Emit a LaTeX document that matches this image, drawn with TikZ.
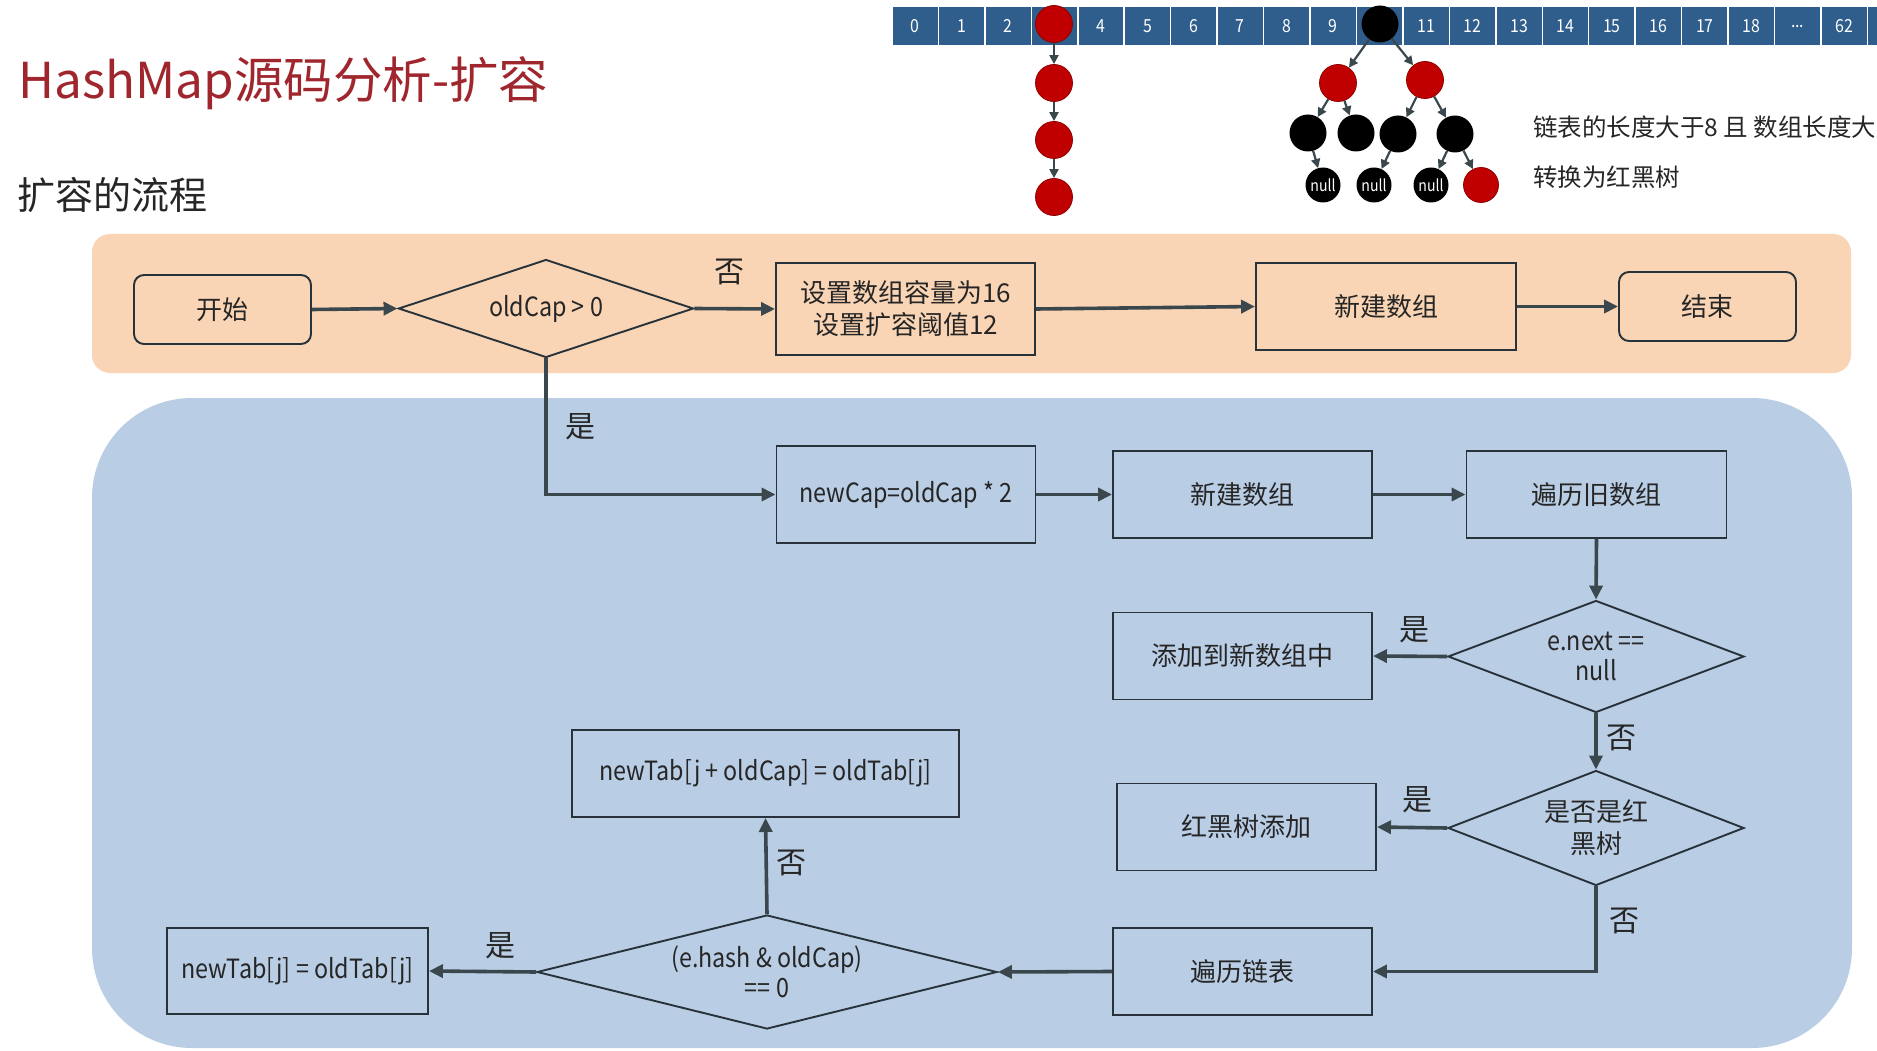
\documentclass[tikz,border=0pt]{standalone}
\usepackage{fontspec}
\setmainfont{Noto Sans CJK SC}
\newfontfamily\narrowsans[FakeStretch=0.88]{Noto Sans CJK SC}
\usetikzlibrary{shapes.geometric,arrows.meta}
\definecolor{titlered}{HTML}{A0262E}
\definecolor{bandorange}{HTML}{F9D5B5}
\definecolor{bandblue}{HTML}{B9CDE5}
\definecolor{cellblue}{HTML}{2F5D8C}
\definecolor{edgegray}{HTML}{3A474D}
\definecolor{boxline}{HTML}{27323A}
\definecolor{nodered}{HTML}{C00000}
\definecolor{txt}{HTML}{262626}
\newcommand{\fsz}[2]{\fontsize{#1}{#2}\selectfont}
\newcommand{\threedots}{...}
\begin{document}
\begin{tikzpicture}[x=1pt,y=-1pt,
  proc/.style={draw=boxline, line width=1.9pt, rectangle, inner sep=0pt,
    align=center, text=txt, font=\fsz{26}{32}},
  latin/.style={font=\narrowsans\fsz{26.5}{30}},
  term/.style={proc, rounded corners=10pt},
  cond/.style={draw=boxline, line width=1.9pt, diamond, inner sep=0pt,
    align=center, text=txt, font=\narrowsans\fsz{26.5}{30}},
  flow/.style={draw=edgegray, line width=3.6pt, -{Triangle[length=14pt,width=13pt]}},
  yn/.style={text=txt, font=\fsz{30}{30}, inner sep=0pt},
  cell/.style={fill=cellblue, draw=white, line width=1.5pt, minimum width=46.45pt,
    minimum height=40pt, inner sep=0pt, text=white, font=\narrowsans\fsz{18}{18}},
  rbred/.style={circle, fill=nodered, draw=nodered!75!black, line width=0.8pt,
    minimum size=37pt, inner sep=0pt},
  rbblack/.style={circle, fill=black, minimum size=37pt, inner sep=0pt},
  rbnull/.style={rbblack, minimum size=35pt, text=white, font=\narrowsans\fsz{16}{16}},
  link/.style={draw=edgegray, line width=2.2pt, -{Triangle[length=9pt,width=9pt]}},
  note/.style={text=txt, font=\fsz{24.5}{24.5}, inner sep=0pt, anchor=west},
]
\path[use as bounding box, clip] (0,0) rectangle (1877,1051);
\fill[white] (0,0) rectangle (1877,1051);

% headings
\node[anchor=west, text=titlered, font=\fsz{49.5}{50}, inner sep=0pt] (title) at (18,83) {HashMap源码分析-扩容};
\node[anchor=west, text=txt, font=\fsz{38}{38}, inner sep=0pt] (sub) at (17,195) {扩容的流程};

% bucket array
\foreach \lab [count=\i from 0] in {0,1,2,{},4,5,6,7,8,9,{},11,12,13,14,15,16,17,18,\threedots,62,{}}
  \node[cell] (c\i) at ({915.2+46.45*\i},26) {\lab};

% linked list in bucket 3
\node[rbred] (l0) at (1054,24) {};
\node[rbred] (l1) at (1054,83) {};
\node[rbred] (l2) at (1054,140) {};
\node[rbred] (l3) at (1054,197) {};
\draw[link] (l0) -- (l1);
\draw[link] (l1) -- (l2);
\draw[link] (l2) -- (l3);

% red-black tree in bucket 10
\node[rbblack] (t0) at (1380,24) {};
\node[rbred] (t1) at (1338,83) {};
\node[rbred] (t2) at (1425,80) {};
\node[rbblack] (t3) at (1308,133) {};
\node[rbblack] (t4) at (1356,133) {};
\node[rbblack] (t5) at (1398,134) {};
\node[rbblack] (t6) at (1455,134) {};
\node[rbnull] (n1) at (1323,185) {null};
\node[rbnull] (n2) at (1374,185) {null};
\node[rbnull] (n3) at (1431,185) {null};
\node[rbred, minimum size=35pt] (t7) at (1481,185) {};
\draw[link] (t0) -- (t1);
\draw[link] (t0) -- (t2);
\draw[link] (t1) -- (t3);
\draw[link] (t1) -- (t4);
\draw[link] (t2) -- (t5);
\draw[link] (t2) -- (t6);
\draw[link] (t3) -- (n1);
\draw[link] (t5) -- (n2);
\draw[link] (t6) -- (n3);
\draw[link] (t6) -- (t7);

\node[note] (note1) at (1533,127) {链表的长度大于8 且 数组长度大};
\node[note] (note2) at (1533,177) {转换为红黑树};

% background bands
\fill[bandorange, rounded corners=18pt] (92,234) rectangle (1851,373);
\fill[bandblue, rounded corners=100pt] (92,398) rectangle (1852,1048);

% flow chart nodes
\node[term, minimum width=177pt, minimum height=69pt] (start) at (222.5,309.5) {开始};
\node[cond, aspect=3, minimum width=295pt, minimum height=98pt] (d1) at (546,308.5) {oldCap > 0};
\node[proc, minimum width=259pt, minimum height=92pt] (setcap) at (905.5,309) {设置数组容量为16\\设置扩容阈值12};
\node[proc, minimum width=260pt, minimum height=87pt] (new1) at (1386,306.5) {新建数组};
\node[term, minimum width=177pt, minimum height=69pt] (end) at (1707.5,306.5) {结束};
\node[proc, latin, minimum width=259pt, minimum height=97pt] (newcap) at (906,494.5) {newCap=oldCap * 2};
\node[proc, minimum width=259pt, minimum height=87pt] (new2) at (1242.5,494.5) {新建数组};
\node[proc, minimum width=260pt, minimum height=87pt] (trav) at (1596.5,494.5) {遍历旧数组};
\node[cond, aspect=2.67, minimum width=296pt, minimum height=112pt] (d2) at (1596,656.5) {e.next ==\\null};
\node[proc, minimum width=259pt, minimum height=87pt] (add) at (1242.5,656) {添加到新数组中};
\node[cond, font=\fsz{26}{32}, aspect=2.6, minimum width=296pt, minimum height=115pt] (d3) at (1596,828) {是否是红\\黑树};
\node[proc, minimum width=259pt, minimum height=87pt] (rbadd) at (1246.5,827) {红黑树添加};
\node[proc, minimum width=259pt, minimum height=87pt] (travlist) at (1242.5,971.5) {遍历链表};
\node[cond, aspect=4, minimum width=460pt, minimum height=114pt] (d4) at (767,972) {(e.hash \& oldCap)\\== 0};
\node[proc, latin, minimum width=387pt, minimum height=87pt] (hi) at (765.5,773.5) {newTab[j + oldCap] = oldTab[j]};
\node[proc, latin, minimum width=261pt, minimum height=86pt] (lo) at (297.5,971) {newTab[j] = oldTab[j]};

% connectors
\draw[flow] (start.east) -- (d1.west);
\draw[flow] (d1.east) -- (setcap.west);
\draw[flow] (setcap.east) -- (new1.west);
\draw[flow] (new1.east) -- (end.west);
\draw[flow] (d1.south) |- (newcap.west);
\draw[flow] (newcap.east) -- (new2.west);
\draw[flow] (new2.east) -- (trav.west);
\draw[flow] (trav.south) -- (d2.north);
\draw[flow] (d2.west) -- (add.east);
\draw[flow] (d2.south) -- (d3.north);
\draw[flow] (d3.west) -- (rbadd.east);
\draw[flow] (d3.south) |- (travlist.east);
\draw[flow] (travlist.west) -- (d4.east);
\draw[flow] (d4.north) -- (hi.south);
\draw[flow] (d4.west) -- (lo.east);

% branch labels
\node[yn] (no1) at (729,272) {否};
\node[yn] (yes1) at (580,427) {是};
\node[yn] (yes2) at (1414,630) {是};
\node[yn] (no2) at (1621,738) {否};
\node[yn] (yes3) at (1417,800) {是};
\node[yn] (no3) at (1624,921) {否};
\node[yn] (no4) at (791,863) {否};
\node[yn] (yes4) at (500,946) {是};
\end{tikzpicture}
\end{document}
